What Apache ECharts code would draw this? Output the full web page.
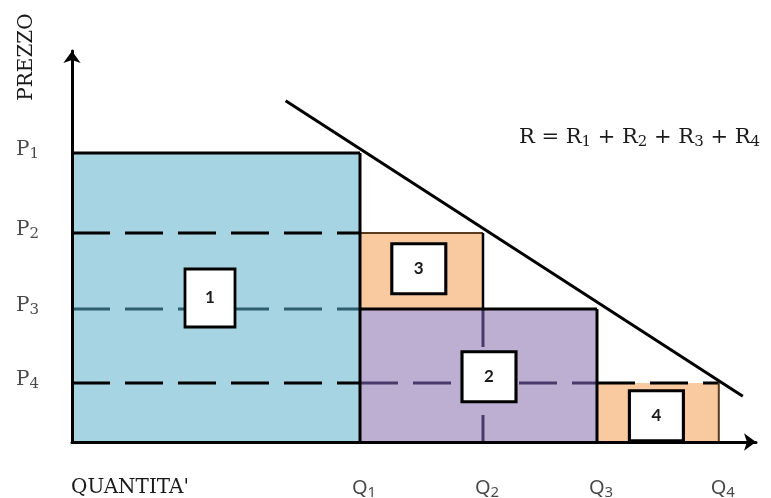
<!DOCTYPE html>
<html>
<head>
<meta charset="utf-8">
<script src="https://cdn.jsdelivr.net/npm/echarts@6/dist/echarts.min.js"></script>
<style>
  html, body { margin: 0; padding: 0; background: #ffffff; }
  #chart { width: 771px; height: 498px; }
</style>
</head>
<body>
<div id="chart"></div>
<script>
// Quantity levels Q1..Q4 and price levels P1..P4
const levelNames = ['1', '2', '3', '4'];
const quantities = [2.4, 3.425, 4.375, 5.39];
const prices = [3.853, 2.787, 1.773, 0.787];

// Demand curve end points [quantity, price]
const demandLine = [[1.78, 4.55], [5.59, 0.61]];

// Numbered revenue boxes: [quantity, price] centres and their numbers
const boxCentres = [[1.15, 1.92], [3.475, 0.87], [2.89, 2.31], [4.87, 0.35]];
const boxNumbers = ['1', '2', '3', '4'];

const [Q1, Q2, Q3, Q4] = quantities;
const [P1, P2, P3, P4] = prices;

const BLUE = '#a6d4e2';
const ORANGE = '#f9caa0';
const PURPLE = '#bdafd2';
const TEAL_DASH = '#2d5f6e';
const PURPLE_DASH = '#4a3a6b';

// Revenue rectangles R1..R4: [q0, p0, q1, p1, fillIndex]
const fills = [BLUE, PURPLE, ORANGE];
const areas = [
  [0, 0, Q1, P1, 0],
  [Q1, 0, Q3, P3, 1],
  [Q1, P3, Q2, P2, 2],
  [Q3, 0, Q4, P4, 2]
];

// Edge and guide segments: [q0, p0, q1, p1, styleIndex]
const segStyles = [
  { stroke: '#000', lineWidth: 3 },                                  // solid edge
  { stroke: '#000', lineWidth: 3, lineDash: [38, 15] },              // dashed black
  { stroke: TEAL_DASH, lineWidth: 3, lineDash: [38, 15] },           // dashed on blue
  { stroke: PURPLE_DASH, lineWidth: 3, lineDash: [38, 15] },         // dashed on purple
  { stroke: '#5a3a1c', lineWidth: 2 },                               // thin brown edge
  { stroke: '#000', lineWidth: 2.5 }                                  // thinner black edge
];
const segments = [
  [0, P2, Q1, P2, 1],
  [0, P3, Q1, P3, 2],
  [0, P4, Q1, P4, 1],
  [Q1, P4, Q3, P4, 3],
  [Q3, P4, Q4, P4, 1],
  [Q2, P3, Q2, 0, 3],
  [Q1, P2, Q2, P2, 4],
  [Q4, P4, Q4, 0, 4],
  [Q2, P2, Q2, P3, 5],
  [0, P1, Q1, P1, 0],
  [Q1, P1, Q1, 0, 0],
  [Q1, P3, Q3, P3, 0],
  [Q3, P3, Q3, 0, 0]
];

const serif = '"DejaVu Serif", "Liberation Serif", serif';
const sans = '"Noto Sans", "Liberation Sans", sans-serif';

function subRich(family, size, subSize, shift) {
  return {
    m: { fontFamily: family, fontSize: size, fontWeight: 'normal', color: '#1a1a1a', lineHeight: size + 6, verticalAlign: 'middle' },
    s: { fontFamily: family, fontSize: subSize, fontWeight: 'normal', color: '#1a1a1a', lineHeight: size + 6, verticalAlign: 'middle', padding: [shift, 0, 0, 0] }
  };
}

const chart = echarts.init(document.getElementById('chart'), null, { renderer: 'canvas' });

chart.setOption({
  animation: false,
  backgroundColor: '#ffffff',
  grid: { left: 72, right: 15, top: 51, bottom: 56 },
  title: [{
    text: '{m|R = R}{s|1}{m| + R}{s|2}{m| + R}{s|3}{m| + R}{s|4}',
    left: 519,
    top: 124,
    padding: 0,
    textStyle: { fontWeight: 'normal', rich: subRich(serif, 21, 15, 9) }
  }],
  graphic: [
    {
      type: 'text',
      x: 27, y: 57,
      rotation: Math.PI / 2,
      style: { text: 'PREZZO', font: '20px ' + serif, fill: '#1a1a1a', align: 'center', verticalAlign: 'middle' }
    },
    {
      type: 'text',
      x: 71, y: 488,
      style: { text: "QUANTITA'", font: '20px ' + serif, fill: '#1a1a1a', align: 'left', verticalAlign: 'middle' }
    }
  ],
  xAxis: {
    type: 'value', min: 0, max: 5.7, z: 10,
    axisLine: { show: true, onZero: false, symbol: ['none', 'arrow'], symbolSize: [13, 12], lineStyle: { color: '#000', width: 3 } },
    axisTick: { show: false }, axisLabel: { show: false }, splitLine: { show: false }
  },
  yAxis: {
    type: 'value', min: 0, max: 5.213, z: 10,
    axisLine: { show: true, onZero: false, symbol: ['none', 'arrow'], symbolSize: [13, 12], lineStyle: { color: '#000', width: 3 } },
    axisTick: { show: false }, axisLabel: { show: false }, splitLine: { show: false }
  },
  series: [
    {
      type: 'custom',
      name: 'areas',
      z: 2,
      data: areas,
      renderItem: function (params, api) {
        const a = api.coord([api.value(0), api.value(3)]);
        const b = api.coord([api.value(2), api.value(1)]);
        return {
          type: 'rect',
          shape: { x: a[0], y: a[1], width: b[0] - a[0], height: b[1] - a[1] },
          style: { fill: fills[api.value(4)] }
        };
      }
    },
    {
      type: 'custom',
      name: 'edges',
      z: 3,
      data: segments,
      renderItem: function (params, api) {
        const a = api.coord([api.value(0), api.value(1)]);
        const b = api.coord([api.value(2), api.value(3)]);
        const st = segStyles[api.value(4)];
        return {
          type: 'line',
          shape: { x1: a[0], y1: a[1], x2: b[0], y2: b[1] },
          style: Object.assign({ fill: null, lineCap: 'butt' }, st)
        };
      }
    },
    {
      type: 'line',
      name: 'demand',
      z: 5,
      data: demandLine,
      symbol: 'none',
      lineStyle: { color: '#000', width: 3 }
    },
    {
      type: 'scatter',
      name: 'boxes',
      z: 6,
      data: boxCentres.map((c, i) => ({
        value: c,
        name: boxNumbers[i],
        symbolSize: i === 0 ? [50, 58] : [54, 50]
      })),
      symbol: 'rect',
      itemStyle: { color: '#ffffff', borderColor: '#000', borderWidth: 3, opacity: 1 },
      label: {
        show: true, position: 'inside', formatter: '{b}',
        fontFamily: 'Lato, "Noto Sans", sans-serif', fontWeight: 'bold', fontSize: 17, color: '#1a1a1a'
      }
    },
    {
      type: 'scatter',
      name: 'price labels',
      data: prices.map((p, i) => ({ value: [0, p], name: levelNames[i] })),
      symbolSize: 0,
      label: {
        show: true, position: 'left', distance: 33, offset: [0, -3],
        formatter: p => '{m|P}{s|' + p.name + '}',
        rich: subRich(serif, 20, 15, 9)
      }
    },
    {
      type: 'scatter',
      name: 'quantity labels',
      data: quantities.map((q, i) => ({ value: [q, 0], name: levelNames[i] })),
      symbolSize: 0,
      label: {
        show: true, position: 'bottom', distance: 33, offset: [4, 0],
        formatter: p => '{m|Q}{s|' + p.name + '}',
        rich: subRich(sans, 20, 15, 9)
      }
    }
  ]
});
</script>
</body>
</html>
